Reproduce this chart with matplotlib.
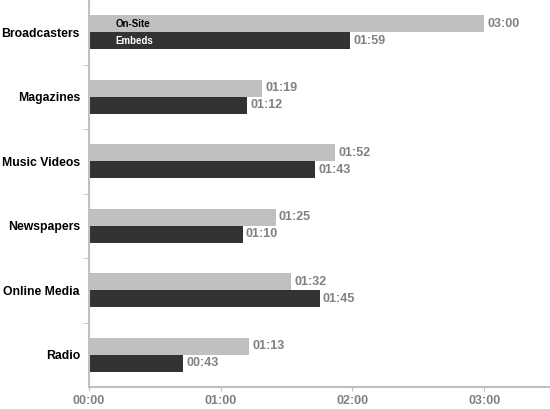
import matplotlib.pyplot as plt
from matplotlib.ticker import FixedLocator

categories = ['Broadcasters', 'Magazines', 'Music Videos', 'Newspapers', 'Online Media', 'Radio']
onsite_sec = [180, 79, 112, 85, 92, 73]
embeds_sec = [119, 72, 103, 70, 105, 43]
series_names = ['On-Site', 'Embeds']
xtick_sec = [0, 60, 120, 180]

LIGHT = '#c0c0c0'
DARK = '#333333'
TXT = '#808080'


def mmss(s):
    return f"{int(s) // 60:02d}:{int(s) % 60:02d}"


plt.rcParams['font.family'] = ['Liberation Sans', 'DejaVu Sans']

fig = plt.figure(figsize=(5.5, 4.09), dpi=100)
ax = fig.add_axes([89 / 550, 22 / 409, 1 - 89 / 550, 1 - 22 / 409])

h = 0.265
ypos = list(range(len(categories)))
y_on = [y - h / 2 for y in ypos]
y_em = [y + h / 2 for y in ypos]
ax.barh(y_on, onsite_sec, height=h, color=LIGHT)
ax.barh(y_em, embeds_sec, height=h, color=DARK)

for y, v in zip(y_on, onsite_sec):
    ax.text(v + 1.5, y, mmss(v), va='center', ha='left', color=TXT,
            fontsize=9, fontweight='bold')
for y, v in zip(y_em, embeds_sec):
    ax.text(v + 1.5, y, mmss(v), va='center', ha='left', color=TXT,
            fontsize=9, fontweight='bold')

# series names written inside the first pair of bars
ax.text(12, y_on[0], series_names[0], va='center', ha='left', color='black',
        fontsize=7, fontweight='bold')
ax.text(12, y_em[0], series_names[1], va='center', ha='left', color='white',
        fontsize=7, fontweight='bold')

ax.set_xlim(0, 210)
ax.set_ylim(len(categories) - 0.5, -0.5)

ax.set_yticks(ypos)
ax.set_yticklabels(categories, fontsize=8.8, fontweight='bold')
ax.tick_params(axis='y', which='major', length=0, pad=6.5)
ax.yaxis.set_minor_locator(FixedLocator([y + 0.5 for y in ypos[:-1]]))
ax.tick_params(axis='y', which='minor', length=4, color=LIGHT, direction='out')

ax.set_xticks(xtick_sec)
ax.set_xticklabels([mmss(s) for s in xtick_sec], fontsize=9, fontweight='bold', color=TXT)
ax.tick_params(axis='x', length=3, color=LIGHT, direction='out', pad=3)

for side in ['top', 'right']:
    ax.spines[side].set_visible(False)
for side in ['left', 'bottom']:
    ax.spines[side].set_color(LIGHT)
    ax.spines[side].set_linewidth(1.5)

fig.savefig('out.png', dpi=100)
